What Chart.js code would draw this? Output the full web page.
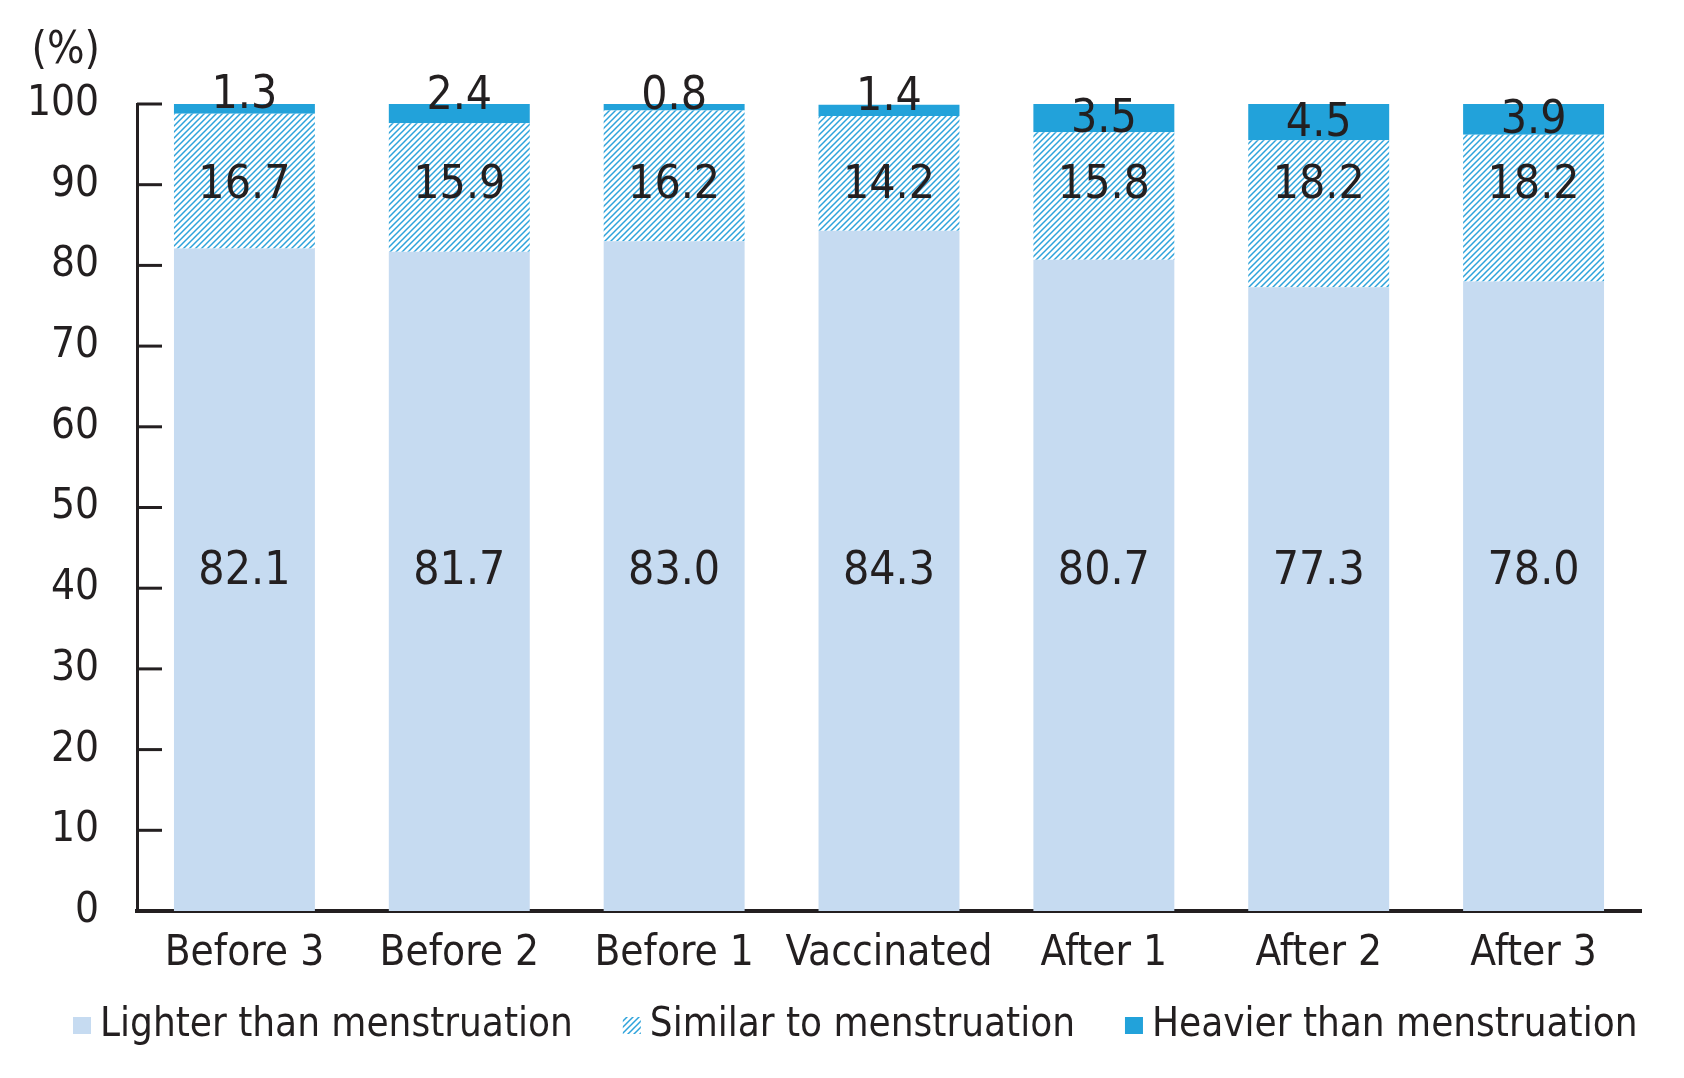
<!DOCTYPE html>
<html>
<head>
<meta charset="utf-8">
<script src="https://cdn.jsdelivr.net/npm/chart.js@4.4.1/dist/chart.umd.min.js"></script>
<style>
  body { margin: 0; background: #fff; }
</style>
</head>
<body>
<canvas id="chart" width="1684" height="1078"></canvas>
<script>
const categories = ['Before 3', 'Before 2', 'Before 1', 'Vaccinated', 'After 1', 'After 2', 'After 3'];
const lighter = [82.1, 81.7, 83.0, 84.3, 80.7, 77.3, 78.0];
const similar = [16.7, 15.9, 16.2, 14.2, 15.8, 18.2, 18.2];
const heavier = [1.3, 2.4, 0.8, 1.4, 3.5, 4.5, 3.9];
const seriesNames = ['Lighter than menstruation', 'Similar to menstruation', 'Heavier than menstruation'];
const yTickValues = [0, 10, 20, 30, 40, 50, 60, 70, 80, 90, 100];
const unitLabel = '(%)';

const FONT = "'DejaVu Sans Condensed', 'DejaVu Sans', sans-serif";
const INK = '#231f20';

// diagonal hatch for the "similar" series
function makeHatch() {
  const s = 6;
  const c = document.createElement('canvas');
  c.width = s; c.height = s;
  const g = c.getContext('2d');
  g.fillStyle = '#ffffff';
  g.fillRect(0, 0, s, s);
  g.strokeStyle = '#2ea3db';
  g.lineWidth = 1.5;
  g.beginPath();
  g.moveTo(0, s); g.lineTo(s, 0);
  g.moveTo(-1, 1); g.lineTo(1, -1);
  g.moveTo(s - 1, s + 1); g.lineTo(s + 1, s - 1);
  g.stroke();
  return g.createPattern(c, 'repeat');
}
const hatch = makeHatch();

// value labels inside the segments
const valueLabels = {
  id: 'valueLabels',
  afterDatasetsDraw(chart) {
    const { ctx } = chart;
    const yScale = chart.scales.y;
    ctx.save();
    ctx.font = '46px ' + FONT;
    ctx.fillStyle = INK;
    ctx.textAlign = 'center';
    ctx.textBaseline = 'middle';
    chart.data.datasets.forEach((ds, i) => {
      chart.getDatasetMeta(i).data.forEach((bar, j) => {
        const v = ds.data[j];
        const { x, y, base } = bar.getProps(['x', 'y', 'base'], true);
        let ty;
        if (i === 0) ty = yScale.getPixelForValue(42.0);
        else if (i === 1) ty = yScale.getPixelForValue(89.8);
        else ty = v < 3 ? y - 7 : (y + base) / 2 + 2;
        ctx.fillText(v.toFixed(1), x, ty);
      });
    });
    ctx.restore();
  }
};

// inward tick marks, unit label and legend
const decorations = {
  id: 'decorations',
  afterDraw(chart) {
    const { ctx, chartArea } = chart;
    const yScale = chart.scales.y;
    ctx.save();
    ctx.strokeStyle = INK;
    ctx.lineWidth = 3;
    yTickValues.forEach(v => {
      if (v === 0) return;
      const py = yScale.getPixelForValue(v);
      ctx.beginPath();
      ctx.moveTo(chartArea.left, py);
      ctx.lineTo(chartArea.left + 25, py);
      ctx.stroke();
    });

    ctx.font = '44px ' + FONT;
    ctx.fillStyle = INK;
    ctx.textAlign = 'right';
    ctx.textBaseline = 'middle';
    ctx.fillText(unitLabel, chartArea.left - 37, chartArea.top - 52);

    // legend
    ctx.font = '40px ' + FONT;
    ctx.textAlign = 'left';
    ctx.textBaseline = 'alphabetic';
    const baseline = 1036;
    let lx = 73;
    chart.data.datasets.forEach(ds => {
      ctx.fillStyle = ds.backgroundColor;
      ctx.fillRect(lx, baseline - 19, 18, 17);
      ctx.fillStyle = INK;
      ctx.fillText(ds.label, lx + 27, baseline);
      lx += 27 + ctx.measureText(ds.label).width + 50;
    });
    ctx.restore();
  }
};

new Chart(document.getElementById('chart'), {
  type: 'bar',
  data: {
    labels: categories,
    datasets: [
      { label: seriesNames[0], data: lighter, backgroundColor: '#c6dbf1' },
      { label: seriesNames[1], data: similar, backgroundColor: hatch },
      { label: seriesNames[2], data: heavier, backgroundColor: '#22a2da' }
    ]
  },
  options: {
    responsive: false,
    devicePixelRatio: 1,
    animation: false,
    categoryPercentage: 1,
    barPercentage: 0.656,
    layout: { padding: { left: 0, right: 43, top: 104, bottom: 107 } },
    plugins: {
      legend: { display: false },
      tooltip: { enabled: false }
    },
    scales: {
      x: {
        stacked: true,
        grid: { display: false },
        border: { display: true, color: INK, width: 4 },
        ticks: {
          color: INK, padding: 10, autoSkip: false, maxRotation: 0, minRotation: 0,
          font: { family: FONT, size: 42 }
        },
        afterFit: (scale) => { scale.height = 60; }
      },
      y: {
        stacked: true,
        min: 0,
        max: 100,
        grid: { display: false },
        border: { display: true, color: INK, width: 3 },
        afterBuildTicks: (scale) => { scale.ticks = yTickValues.map(v => ({ value: v })); },
        ticks: { color: INK, padding: 30, font: { family: FONT, size: 42 } },
        afterFit: (scale) => { scale.width = 137; }
      }
    }
  },
  plugins: [valueLabels, decorations]
});
</script>
</body>
</html>
